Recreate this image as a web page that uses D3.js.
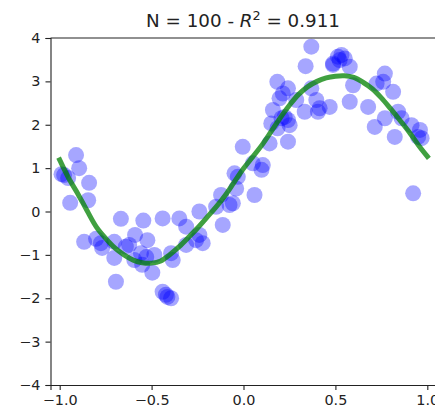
<!DOCTYPE html>
<html>
<head>
<meta charset="utf-8">
<script src="https://cdn.jsdelivr.net/npm/d3@7"></script>
<style>
  body { margin: 0; background: #fff; }
  svg { display: block; font-family: "DejaVu Sans", sans-serif; }
</style>
</head>
<body>
<div id="chart"></div>
<script>
// scatter samples
var xs = [-0.976, -0.954, -0.911, -0.894, -0.840, -0.845, -0.943, -0.867, -0.802, -0.776,
          -0.769, -0.703, -0.703, -0.667, -0.694, -0.640, -0.590, -0.594, -0.558, -0.551,
          -0.545, -0.496, -0.529, -0.440, -0.349, -0.312, -0.240, -0.122, -0.076, -0.149,
          -0.113, -0.240, -0.258, -0.222, -0.312, -0.394, -0.385, -0.485, -0.440, -0.422,
          -0.394, -0.414, -0.004, -0.049, -0.031, -0.040, 0.060, 0.051, -0.058, 0.369,
          0.338, 0.487, 0.514, 0.184, 0.242, 0.214, 0.196, 0.160, 0.224, 0.242,
          0.251, 0.242, 0.151, 0.287, 0.333, 0.369, 0.396, 0.414, 0.405, 0.469,
          0.142, 0.105, 0.533, 0.523, 0.551, 0.578, 0.487, 0.596, 0.578, 0.678,
          0.769, 0.724, 0.760, 0.814, 0.769, 0.714, 0.823, 0.841, 0.860, 0.914,
          0.960, 0.950, 0.969, 0.923, -0.523, -0.622, 0.207, 0.185, 0.098, -0.990];
var ys = [0.84, 0.77, 1.30, 1.00, 0.66, 0.26, 0.20, -0.70, -0.63, -0.73,
          -0.84, -0.70, -1.07, -0.17, -1.62, -0.81, -0.54, -1.12, -0.96, -1.23,
          -0.21, -1.41, -1.05, -0.16, -0.16, -0.35, 0.00, 0.38, 0.15, 0.11,
          -0.31, -0.54, -0.66, -0.73, -0.77, -0.96, -1.12, -1.00, -1.85, -1.92,
          -2.00, -1.97, 1.49, 0.88, 0.80, 0.53, 0.38, 1.11, 0.19, 3.80,
          3.35, 3.38, 3.57, 2.99, 2.84, 2.72, 2.61, 2.34, 2.18, 2.11,
          1.99, 1.61, 2.03, 2.57, 2.30, 2.84, 2.57, 2.38, 2.30, 2.41,
          1.57, 1.07, 3.61, 3.49, 3.53, 3.34, 3.41, 2.91, 2.53, 2.41,
          3.18, 2.95, 2.99, 2.76, 2.15, 1.95, 1.72, 2.30, 2.15, 1.99,
          1.88, 1.72, 1.69, 0.42, -0.66, -0.77, 2.15, 1.92, 0.96, 0.86];

// fitted curve, read at steps of 0.05
var fitX = [-1.0, -0.95, -0.9, -0.85, -0.8, -0.75, -0.7, -0.65, -0.6, -0.55, -0.5,
            -0.45, -0.4, -0.35, -0.3, -0.25, -0.2, -0.15, -0.1, -0.05, 0.0,
            0.05, 0.1, 0.15, 0.2, 0.25, 0.3, 0.35, 0.4, 0.45, 0.5,
            0.55, 0.6, 0.65, 0.7, 0.75, 0.8, 0.85, 0.9, 0.95, 1.0];
var fitY = [1.19, 0.76, 0.40, 0.01, -0.36, -0.62, -0.84, -1.00, -1.12, -1.18, -1.19,
            -1.14, -0.99, -0.81, -0.60, -0.38, -0.14, 0.10, 0.37, 0.68, 0.99,
            1.26, 1.53, 1.84, 2.16, 2.45, 2.70, 2.88, 3.00, 3.08, 3.12,
            3.13, 3.09, 2.98, 2.83, 2.62, 2.37, 2.11, 1.84, 1.54, 1.27];

var xTicks = [-1.0, -0.5, 0.0, 0.5, 1.0];
var yTicks = [-4, -3, -2, -1, 0, 1, 2, 3, 4];
var n = 100, r2 = 0.911;

var width = 435,
    height = 411;
var margin = {top: 38, left: 50.5, bottom: 385};

var x = d3.scaleLinear().domain([-1.05, 1.05]).range([margin.left, 436.5]);
var y = d3.scaleLinear().domain([-4, 4]).range([margin.bottom, margin.top]);

var svg = d3.select("#chart").append("svg")
    .attr("width", width)
    .attr("height", height);

// points
svg.append("g").selectAll("circle")
    .data(d3.range(xs.length))
    .enter().append("circle")
    .attr("cx", function(i) { return x(xs[i]); })
    .attr("cy", function(i) { return y(ys[i]); })
    .attr("r", 8)
    .attr("fill", "blue")
    .attr("fill-opacity", 0.35);

// fit line on top
var line = d3.line()
    .x(function(i) { return x(fitX[i]); })
    .y(function(i) { return y(fitY[i]); })
    .curve(d3.curveCatmullRom);

svg.append("path")
    .datum(d3.range(fitX.length))
    .attr("d", line)
    .attr("fill", "none")
    .attr("stroke", "green")
    .attr("stroke-opacity", 0.75)
    .attr("stroke-width", 5)
    .attr("stroke-linecap", "square");

// axes
var xAxis = svg.append("g")
    .attr("transform", "translate(0," + margin.bottom + ")")
    .call(d3.axisBottom(x).tickValues(xTicks).tickFormat(d3.format(".1f")).tickSizeOuter(0).tickSize(5).tickPadding(5));
var yAxis = svg.append("g")
    .attr("transform", "translate(" + margin.left + ",0)")
    .call(d3.axisLeft(y).tickValues(yTicks).tickFormat(d3.format("d")).tickSizeOuter(0).tickSize(5).tickPadding(5));

[xAxis, yAxis].forEach(function(a) {
    a.selectAll("text").attr("font-size", "14.4px").attr("font-family", "DejaVu Sans").attr("fill", "#222");
    a.selectAll("line").attr("stroke", "#222").attr("stroke-width", 1.1);
    a.select(".domain").attr("stroke", "#222").attr("stroke-width", 1.1);
});

// top spine
svg.append("line")
    .attr("x1", margin.left).attr("x2", 436.5)
    .attr("y1", margin.top).attr("y2", margin.top)
    .attr("stroke", "#222").attr("stroke-width", 1.1);

// title
var title = svg.append("text")
    .attr("x", 243)
    .attr("y", 27)
    .attr("text-anchor", "middle")
    .attr("font-size", "18.3px")
    .attr("fill", "#222");
title.append("tspan").text("N = " + n + " - ");
title.append("tspan").attr("font-style", "italic").text("R");
title.append("tspan").attr("font-size", "12.8px").attr("dy", -7).text("2");
title.append("tspan").attr("dy", 7).text(" = " + r2.toFixed(3));
</script>
</body>
</html>
